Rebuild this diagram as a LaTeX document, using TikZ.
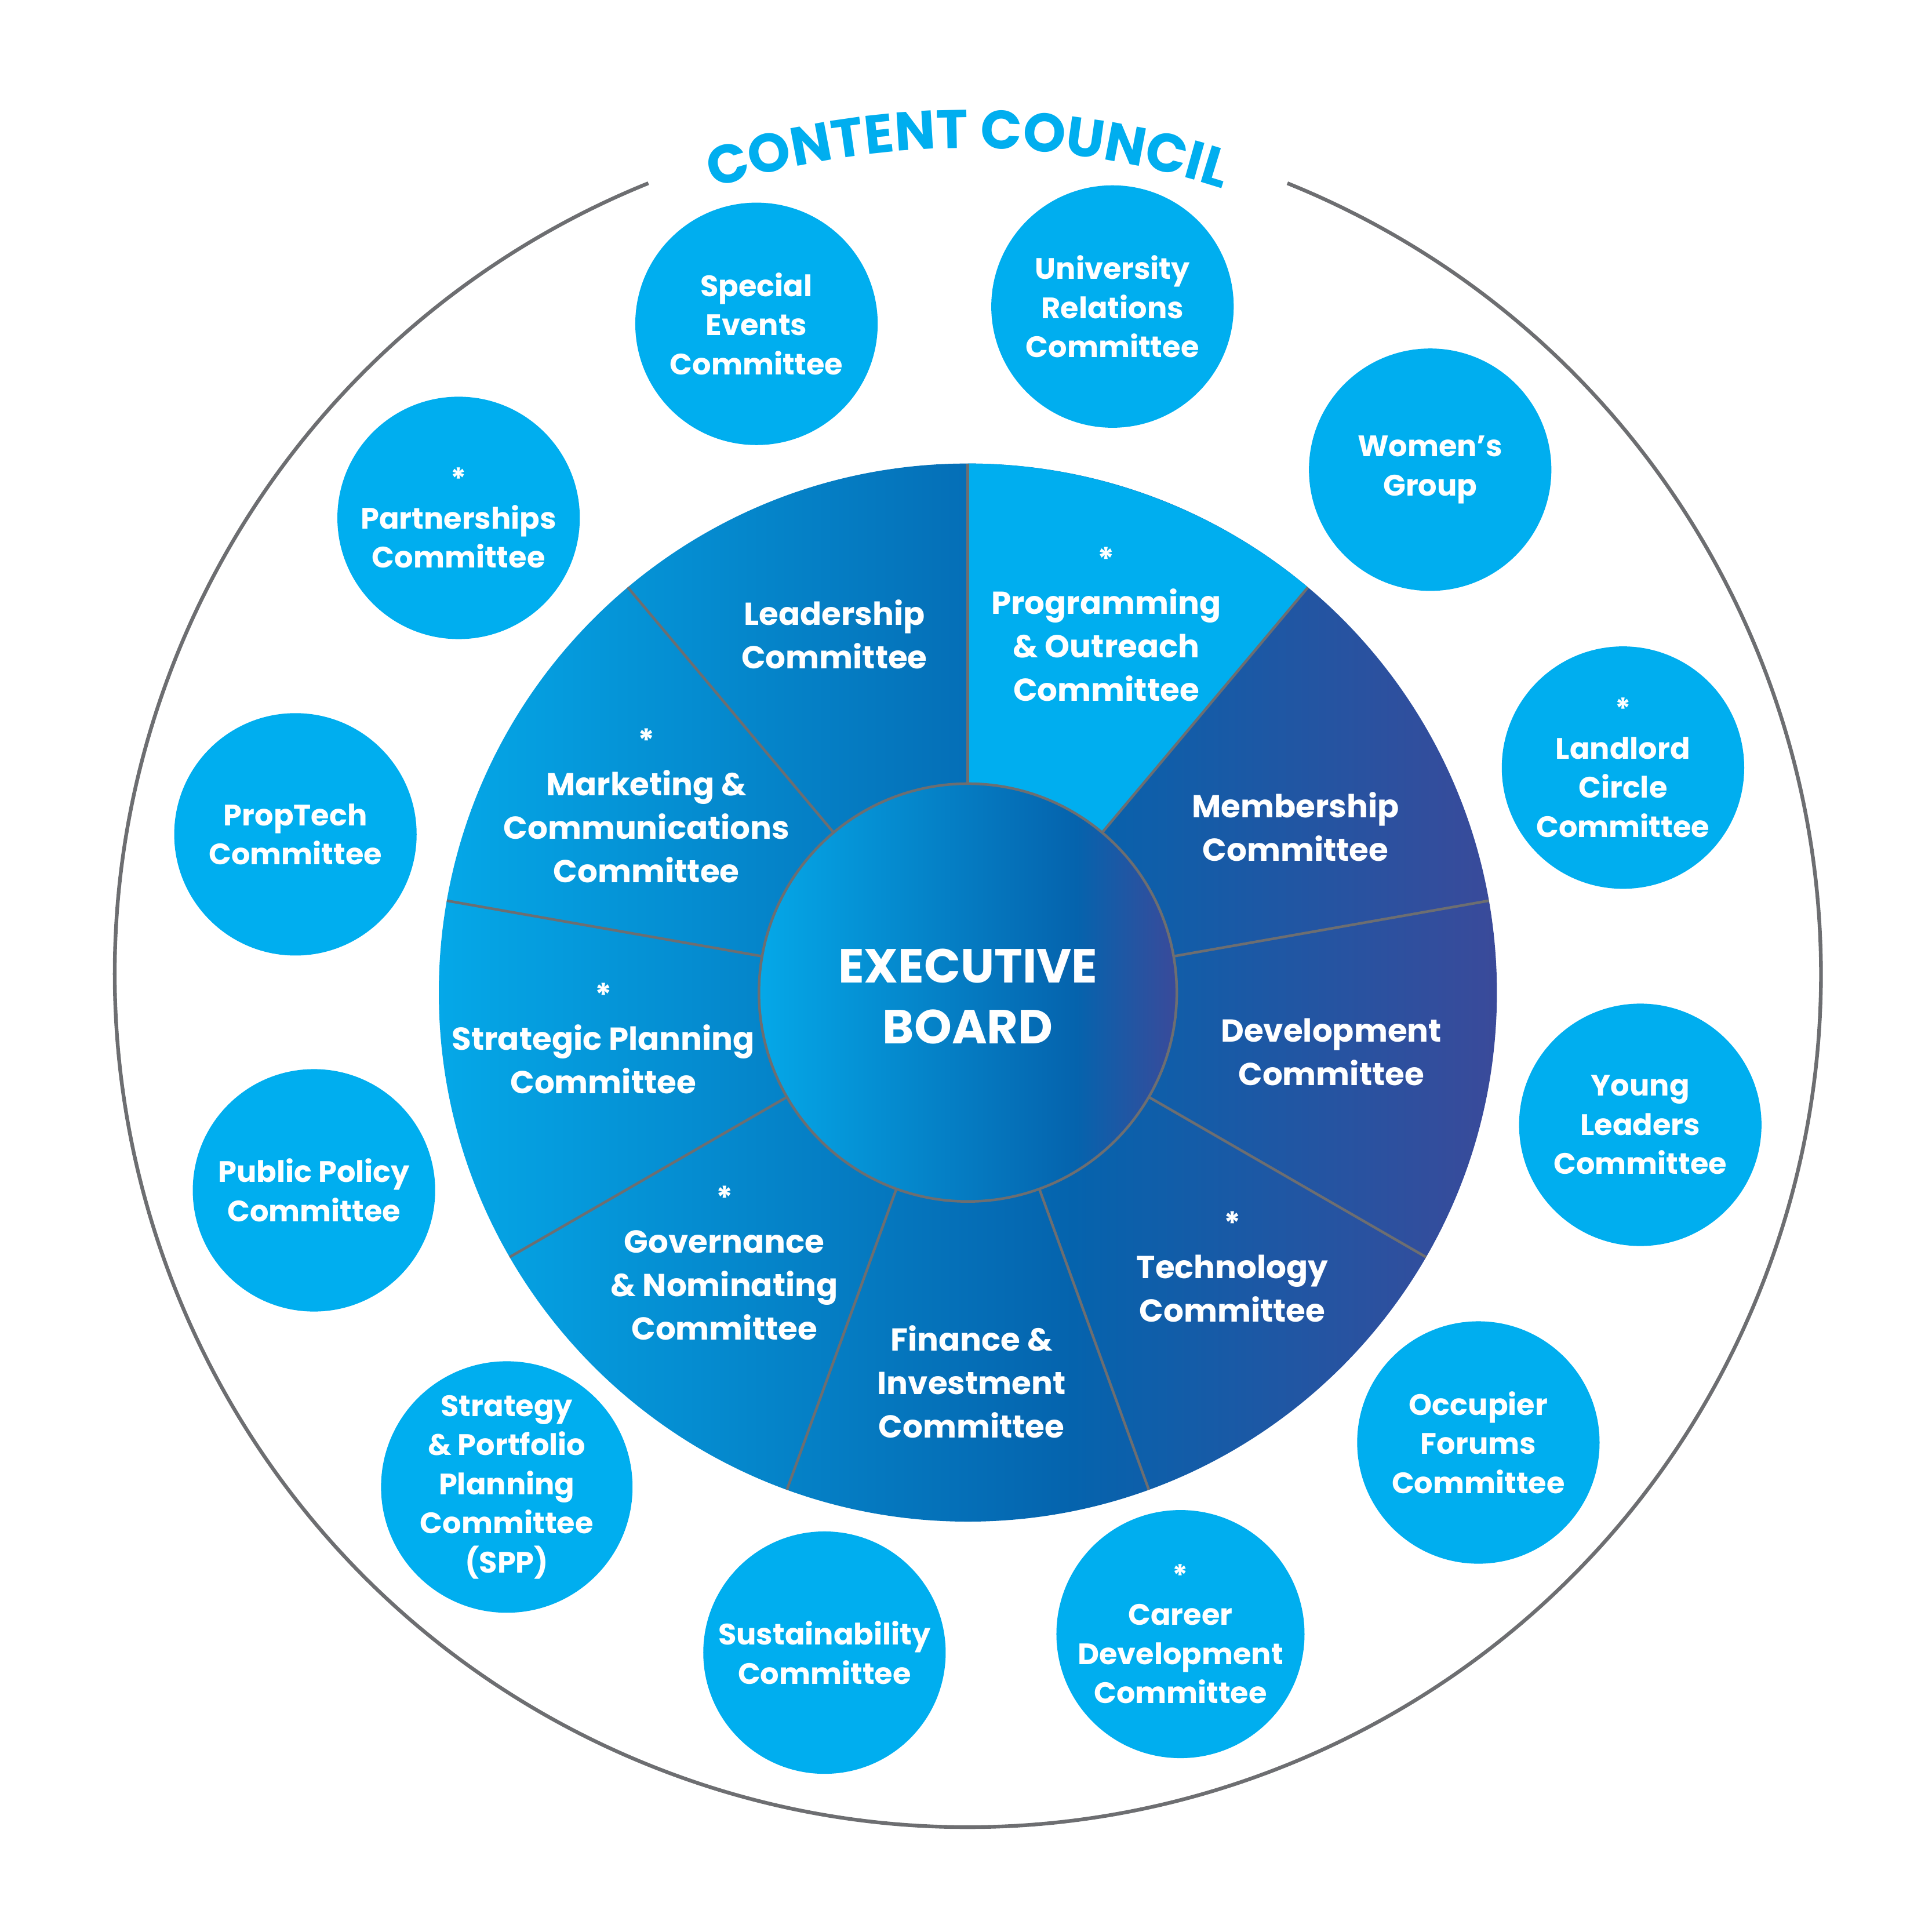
\documentclass[tikz,border=0pt]{standalone}
\usepackage{fontspec}
\setmainfont{Poppins}
\usetikzlibrary{decorations.text}
\definecolor{cy}{HTML}{00AEEF}
\definecolor{lb}{HTML}{05A8E8}
\definecolor{db}{HTML}{0563AD}
\definecolor{pu}{HTML}{3A4A9A}
\definecolor{gr}{HTML}{6D6E71}
\pgfdeclarehorizontalshading{pie}{100bp}{color(0bp)=(lb); color(25bp)=(lb); color(55bp)=(db); color(75bp)=(pu); color(100bp)=(pu)}
\pgfdeclarehorizontalshading{core}{100bp}{color(0bp)=(lb); color(25bp)=(lb); color(63bp)=(db); color(75bp)=(pu); color(100bp)=(pu)}
\newcommand\ttlfnt{\color{cy}\fontsize{12.5}{13}\selectfont\bfseries}
\tikzset{
  x=0.01cm,y=0.01cm,
  sc/.style={circle,fill=cy,minimum size=1.96cm,inner sep=0pt,text=white,align=center,font=\bfseries\fontsize{6.8}{9}\selectfont},
  seg/.style={text=white,align=center,font=\bfseries\fontsize{7.3}{10}\selectfont},
  div/.style={draw=gr,line width=0.6pt},
}
\begin{document}
\begin{tikzpicture}
\useasboundingbox (0,0) rectangle (1563,1563);
\coordinate (oc) at (783,775);
\coordinate (pc) at (783,760);
% outer circle with gap
\draw[gr,line width=0.85pt] (oc) ++(68:690) arc[start angle=68,end angle=-248,radius=690];
\path[decorate,decoration={text along path,text align=center,text={|\ttlfnt|CONTENT COUNCIL}}]
  (oc) ++(118:668) arc[start angle=118,end angle=62,radius=668];
% pie
\shade[shading=pie] (pc) circle[radius=428];
\fill[cy] (pc) -- ++(50:428) arc[start angle=50,end angle=90,radius=428] -- cycle;
\foreach \a in {90,50,10,-30,-70,-110,-150,170,130}
  \draw[div] (pc) ++(\a:169) -- ++(\a:259);
\shade[shading=core,draw=gr,line width=0.6pt] (pc) circle[radius=169];
\node[text=white,align=center,font=\bfseries\fontsize{11}{14}\selectfont] (eb) at (783,757) {EXECUTIVE\\BOARD};
% segment labels
\node[seg] (s1) at (675,1050) {Leadership\\Committee};
\node[seg] (s2) at (895,1058) {*\\Programming\\\& Outreach\\Committee};
\node[seg] (s3) at (1048,894) {Membership\\Committee};
\node[seg] (s4) at (1077,712) {Development\\Committee};
\node[seg] (s5) at (997,538) {*\\Technology\\Committee};
\node[seg] (s6) at (786,445) {Finance \&\\Investment\\Committee};
\node[seg] (s7) at (586,541) {*\\Governance\\\& Nominating\\Committee};
\node[seg] (s8) at (488,723) {*\\Strategic Planning\\Committee};
\node[seg] (s9) at (523,911) {*\\Marketing \&\\Communications\\Committee};
% small circles
\node[sc] (c1) at (612,1301) {Special\\Events\\Committee};
\node[sc] (c2) at (900,1315) {University\\Relations\\Committee};
\node[sc] (c3) at (1157,1183) {Women’s\\Group};
\node[sc] (c4) at (1313,942) {*\\Landlord\\Circle\\Committee};
\node[sc] (c5) at (1327,653) {Young\\Leaders\\Committee};
\node[sc] (c6) at (1196,396) {Occupier\\Forums\\Committee};
\node[sc] (c7) at (955,241) {*\\Career\\Development\\Committee};
\node[sc] (c8) at (667,226) {Sustainability\\Committee};
\node[sc] (c9) at (410,360) {Strategy\\\& Portfolio\\Planning\\Committee\\(SPP)};
\node[sc] (c10) at (254,600) {Public Policy\\Committee};
\node[sc] (c11) at (239,888) {PropTech\\Committee};
\node[sc] (c12) at (371,1144) {*\\Partnerships\\Committee};
\end{tikzpicture}
\end{document}
